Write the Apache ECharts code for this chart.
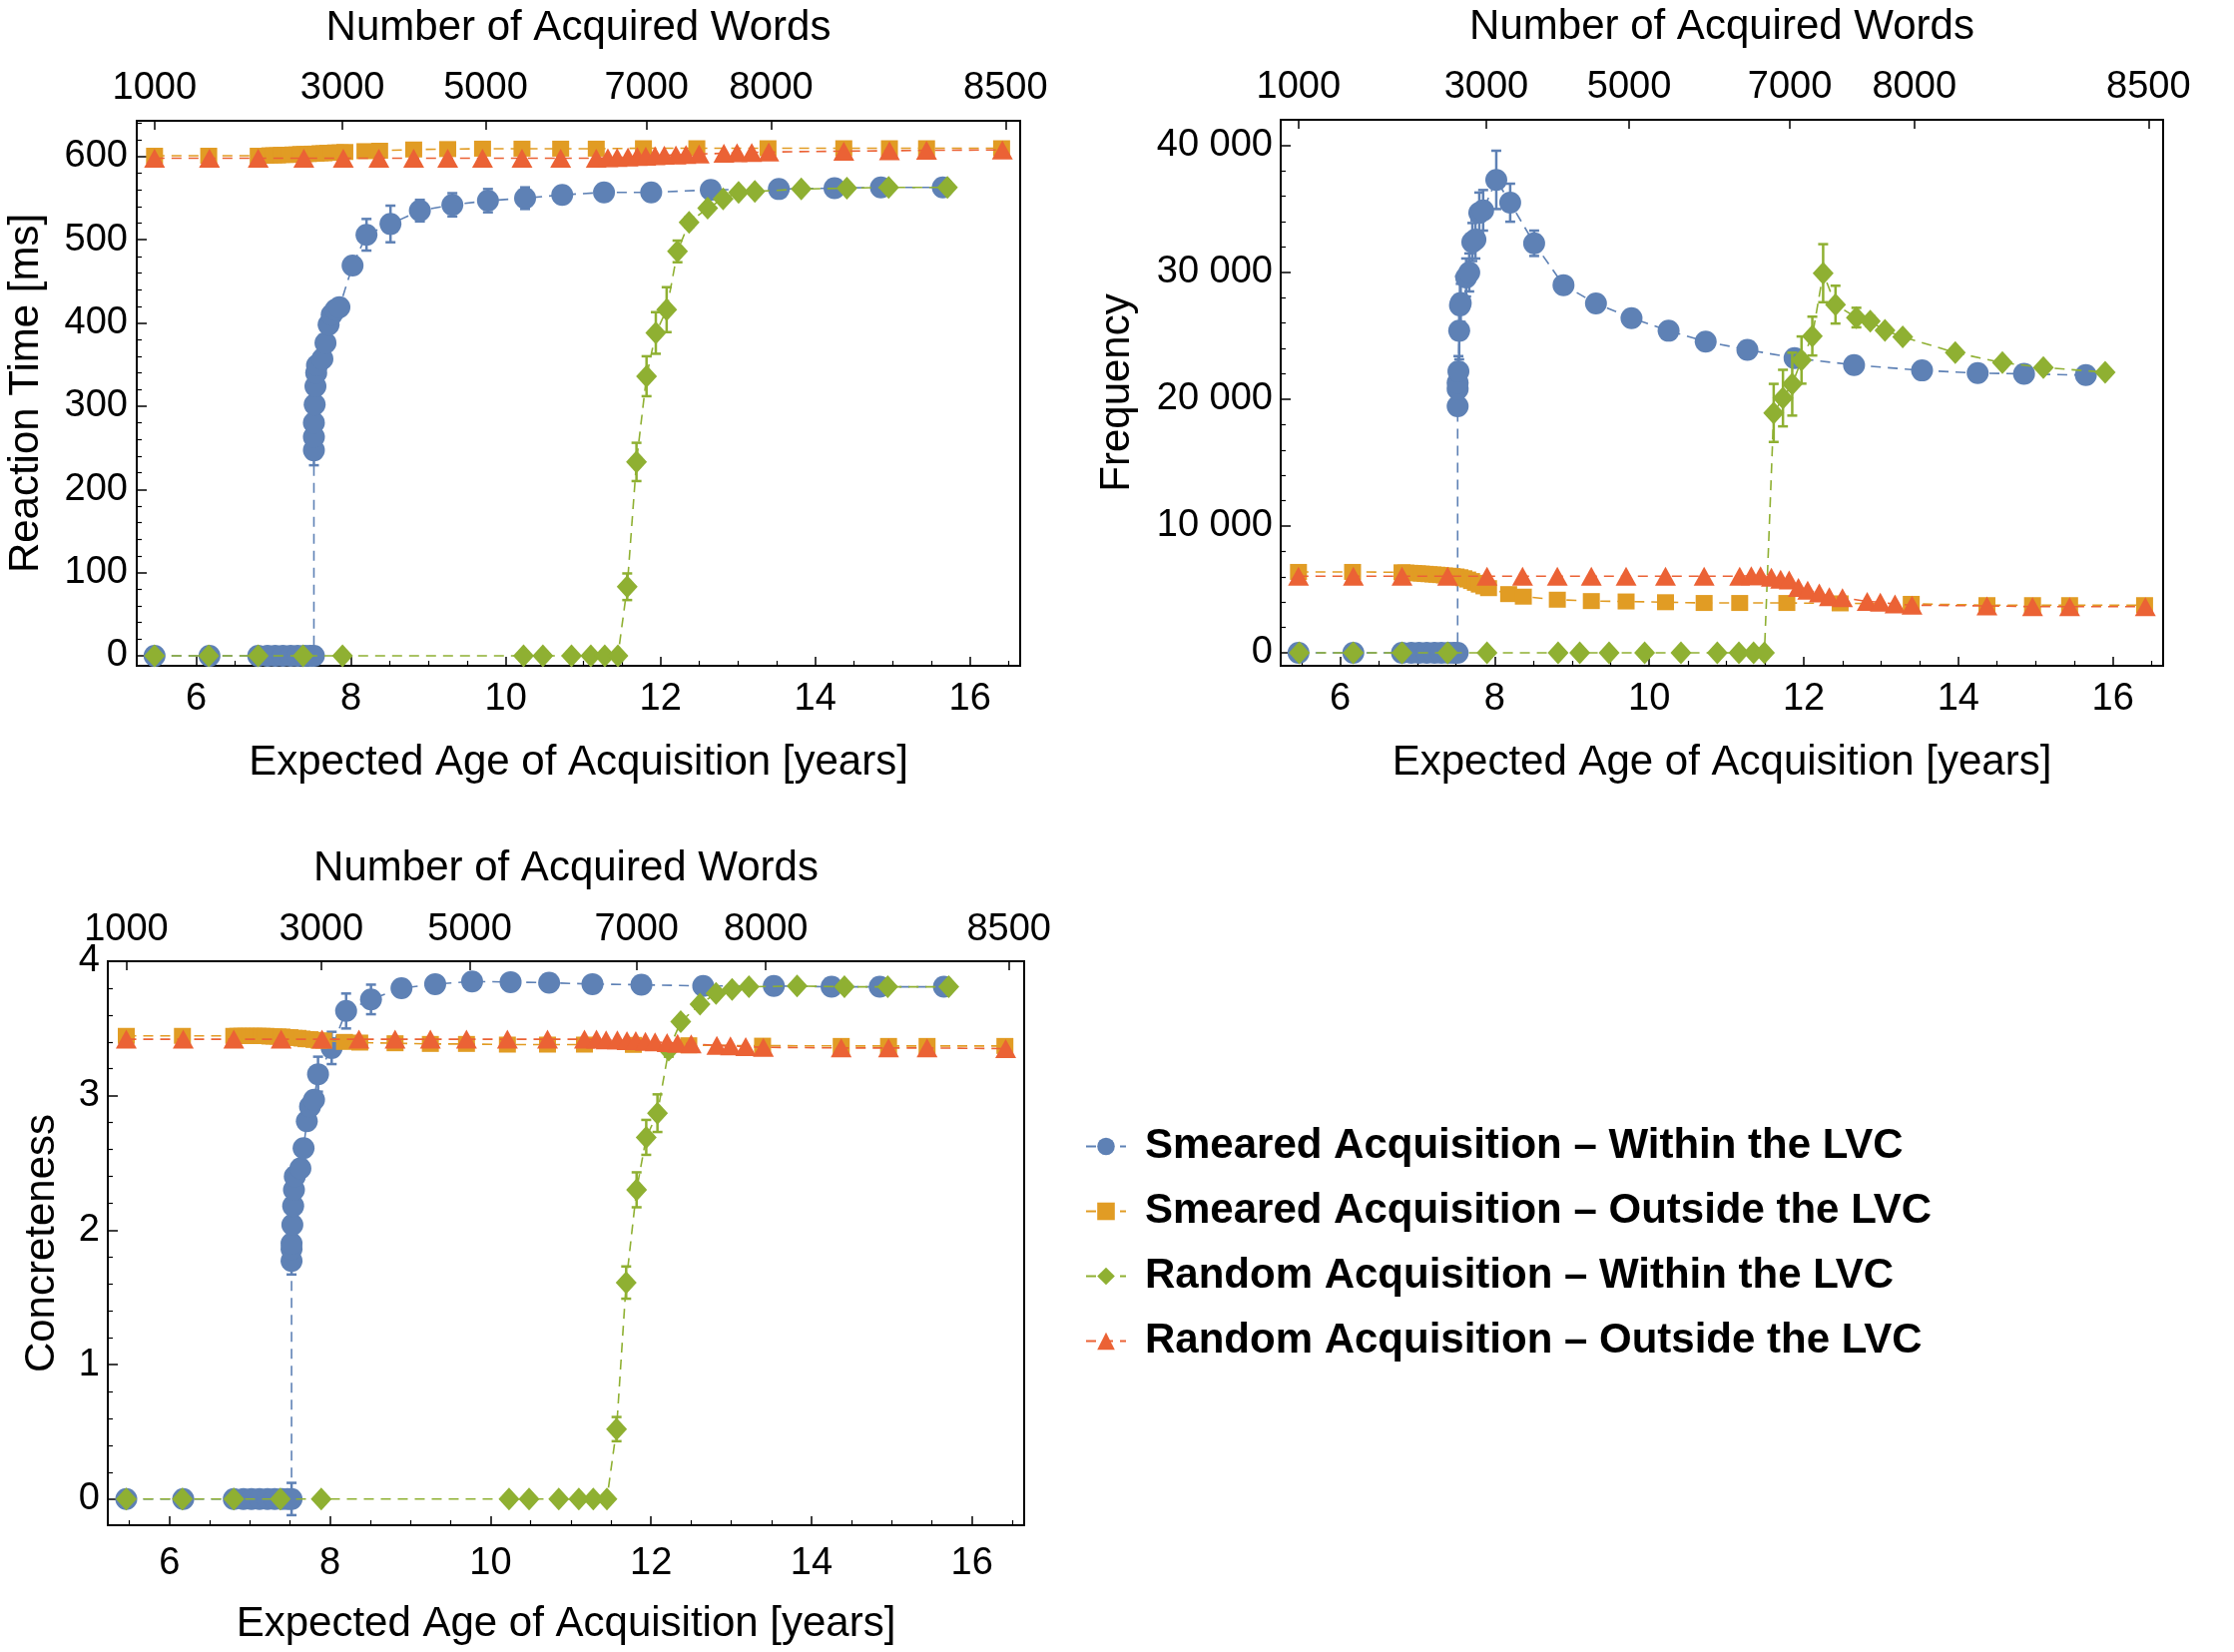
<!DOCTYPE html>
<html>
<head>
<meta charset="utf-8">
<title>Acquisition within / outside the LVC</title>
<script src="https://cdn.jsdelivr.net/npm/echarts@6/dist/echarts.min.js"></script>
<style>
  html, body { margin: 0; padding: 0; background: #fff; }
  #chart { width: 2238px; height: 1655px; }
</style>
</head>
<body>
<div id="chart"></div>
<script>
// colours (Mathematica default palette)
const blue = '#5e81b5', orange = '#e19c24', green = '#8fb032', red = '#eb6235';
const names = [
  'Smeared Acquisition \u2013 Within the LVC',
  'Smeared Acquisition \u2013 Outside the LVC',
  'Random Acquisition \u2013 Within the LVC',
  'Random Acquisition \u2013 Outside the LVC'
];

// bottom axis: expected age, top axis: number of acquired words
const ageTicks = [6, 8, 10, 12, 14, 16];
const wordTickAges = [5.46, 7.89, 9.74, 11.82, 13.43, 16.46];
const wordTickLabels = ['1000', '3000', '5000', '7000', '8000', '8500'];

// Smeared acquisition - within the LVC
const blueX = [5.46, 6.17, 6.80, 6.92, 7.02, 7.12, 7.22, 7.31, 7.40, 7.47, 7.52,
  7.52, 7.52, 7.52, 7.53, 7.54, 7.55, 7.56,
  7.63, 7.67, 7.71, 7.75, 7.80, 7.85,
  8.02, 8.20, 8.51, 8.89, 9.31, 9.77, 10.25, 10.73, 11.27, 11.88, 12.65, 13.53, 14.25, 14.85, 15.65];
const blueRT = [0, 0, 0, 0, 0, 0, 0, 0, 0, 0, 0,
  247, 263, 280, 302, 324, 340, 349,
  357, 376, 398, 410, 416, 419,
  469, 506, 519, 535, 542, 547, 550, 554, 557, 557, 560, 561, 562, 563, 563];
const blueRTErr = [0, 0, 0, 0, 0, 0, 0, 0, 0, 0, 0,
  18, 8, 8, 8, 8, 8, 8,
  6, 6, 6, 6, 6, 6,
  8, 19, 22, 13, 14, 14, 13, 6, 5, 5, 4, 4, 4, 4, 4];
const blueFreq = [0, 0, 0, 0, 0, 0, 0, 0, 0, 0, 0,
  19440, 20800, 21300, 22200, 25400, 27400, 27600,
  29600, 30000, 32400, 32600, 34700, 34900,
  37300, 35500, 32300, 29000, 27550, 26400, 25400, 24550, 23900, 23250, 22700, 22270, 22060, 22000, 21900];
const blueFreqErr = [0, 0, 0, 0, 0, 0, 0, 0, 0, 0, 0,
  400, 400, 400, 1200, 2250, 2300, 1500,
  1500, 1500, 1500, 1500, 1600, 1600,
  2300, 1500, 1000, 400, 400, 300, 300, 300, 300, 300, 300, 300, 300, 300, 300];
const blueConc = [0, 0, 0, 0, 0, 0, 0, 0, 0, 0, 0,
  1.77, 1.86, 1.90, 2.04, 2.18, 2.30, 2.40,
  2.46, 2.61, 2.81, 2.92, 2.97, 3.16,
  3.355, 3.63, 3.716, 3.80, 3.83, 3.85, 3.845, 3.84, 3.83, 3.825, 3.816, 3.816, 3.81, 3.81, 3.81];
const blueConcErr = [0, 0, 0, 0, 0, 0, 0, 0, 0, 0, 0.12,
  0.1, 0.05, 0.05, 0.05, 0.05, 0.05, 0.05,
  0.05, 0.05, 0.05, 0.05, 0.05, 0.13,
  0.12, 0.13, 0.11, 0.06, 0.04, 0.04, 0.03, 0.03, 0.03, 0.03, 0.03, 0.03, 0.03, 0.03, 0.03];

// Smeared acquisition - outside the LVC
const orangeX = [5.46, 6.16,
  6.80, 6.85, 6.90, 6.95, 7.00, 7.05, 7.10, 7.15, 7.20, 7.25, 7.30, 7.35, 7.40, 7.45, 7.50,
  7.55, 7.60, 7.65, 7.70, 7.75, 7.80, 7.86, 7.92,
  8.18, 8.37, 8.81, 9.25, 9.70, 10.21, 10.71, 11.17, 11.78, 12.47, 13.39, 14.37, 14.96, 15.44, 16.41];
const orangeRT = [601, 601,
  601, 601, 601, 601.5, 601.5, 601.5, 602, 602, 602, 602.5, 602.5, 603, 603, 603, 603.5,
  603.5, 604, 604, 604.5, 604.5, 605, 605, 605.5,
  606.5, 607, 608.5, 609, 609.5, 609.5, 609.5, 609.5, 610, 610, 610, 610, 610, 610, 610];
const orangeFreq = [6380, 6380,
  6350, 6330, 6310, 6290, 6270, 6250, 6230, 6200, 6180, 6160, 6130, 6100, 6080, 6050, 6020,
  5960, 5880, 5780, 5660, 5520, 5380, 5240, 5100,
  4630, 4430, 4190, 4080, 4050, 3990, 3930, 3930, 3930, 3900, 3860, 3760, 3760, 3760, 3760];
const orangeConc = [3.445, 3.445,
  3.445, 3.445, 3.445, 3.445, 3.445, 3.445, 3.445, 3.445, 3.445, 3.44, 3.44, 3.44, 3.44, 3.435, 3.435,
  3.43, 3.43, 3.425, 3.42, 3.42, 3.415, 3.41, 3.41,
  3.40, 3.395, 3.39, 3.385, 3.385, 3.38, 3.38, 3.38, 3.378, 3.375, 3.372, 3.37, 3.37, 3.37, 3.37];

// Random acquisition - within the LVC
const greenX = [5.46, 6.16, 6.80, 7.38, 7.89, 10.23, 10.48, 10.85, 11.10, 11.28, 11.45,
  11.57, 11.69, 11.82, 11.94, 12.08, 12.22, 12.37, 12.61, 12.81, 13.01, 13.22, 13.82, 14.41, 14.95, 15.71];
const greenRT = [0, 0, 0, 0, 0, 0, 0, 0, 0, 0, 0,
  83, 233, 336, 388, 416, 486, 521, 538, 549, 557, 558, 561, 562, 563, 563];
const greenRTErr = [0, 0, 0, 0, 0, 0, 0, 0, 0, 0, 0,
  16, 23, 24, 25, 27, 13, 6, 5, 4, 4, 4, 3, 3, 3, 3];
const greenConc = [0, 0, 0, 0, 0, 0, 0, 0, 0, 0, 0,
  0.52, 1.61, 2.30, 2.69, 2.87, 3.34, 3.55, 3.68, 3.76, 3.79, 3.81, 3.816, 3.81, 3.81, 3.81];
const greenConcErr = [0, 0, 0, 0, 0, 0, 0, 0, 0, 0, 0,
  0.09, 0.12, 0.13, 0.13, 0.14, 0.05, 0.03, 0.03, 0.02, 0.02, 0.02, 0.02, 0.02, 0.02, 0.02];
const greenFreqX = [5.47, 6.17, 6.80, 7.39, 7.90, 8.82, 9.10, 9.48, 9.94, 10.41, 10.88, 11.16, 11.35, 11.49,
  11.61, 11.73, 11.85, 11.97, 12.11, 12.25, 12.41, 12.68, 12.86, 13.05, 13.28, 13.96, 14.57, 15.10, 15.90];
const greenFreq = [0, 0, 0, 0, 0, 0, 0, 0, 0, 0, 0, 0, 0, 0,
  18920, 20090, 21190, 23090, 24980, 29940, 27460, 26440, 26150, 25420, 24925, 23670, 22880, 22500, 22130];
const greenFreqErr = [0, 0, 0, 0, 0, 0, 0, 0, 0, 0, 0, 0, 0, 0,
  2290, 2230, 2480, 1860, 1530, 2290, 1490, 770, 400, 300, 300, 300, 300, 300, 300];

// Random acquisition - outside the LVC
const redX = [5.46, 6.17, 6.80, 7.39, 7.90, 8.36, 8.81, 9.25, 9.70, 10.21, 10.71, 11.17,
  11.32, 11.44, 11.58, 11.70, 11.81, 11.93, 12.05, 12.20, 12.33, 12.50, 12.82, 12.99, 13.18, 13.40,
  14.37, 14.96, 15.44, 16.42];
const redRT = [598, 598, 598, 598, 598, 598, 598, 598, 598, 598, 598, 598,
  598.5, 599, 599.5, 600, 600.5, 601, 601.5, 602, 602.5, 603, 604, 604.5, 605, 605.5,
  606.5, 607, 607.5, 608];
const redFreq = [6040, 6040, 6040, 6040, 6040, 6040, 6040, 6040, 6040, 6040, 6040, 6040,
  6090, 6090, 5970, 5800, 5740, 5160, 4930, 4720, 4430, 4340, 4050, 3990, 3850, 3760,
  3700, 3640, 3640, 3640];
const redConc = [3.42, 3.42, 3.42, 3.42, 3.42, 3.42, 3.42, 3.42, 3.42, 3.42, 3.42, 3.42,
  3.42, 3.415, 3.415, 3.41, 3.41, 3.405, 3.40, 3.395, 3.39, 3.385, 3.375, 3.37, 3.365, 3.36,
  3.355, 3.355, 3.355, 3.35];

const FONT = '"Liberation Sans", Arial, sans-serif';
const AGE_MIN = 5.23, AGE_MAX = 16.65;

function minorTicks(lo, hi, step, major) {
  const out = [];
  for (let v = lo; v <= hi + 1e-9; v += step) {
    const r = Math.round(v / step) * step;
    if (Math.abs(r / major - Math.round(r / major)) > 1e-6) out.push(+r.toFixed(4));
  }
  return out;
}

function freqLabel(v) {
  if (v < 10000) return String(v);
  const s = String(v);
  return s.slice(0, s.length - 3) + ' ' + s.slice(-3);
}

const panels = [
  {
    grid: { left: 137, top: 121, width: 885, height: 546 },
    y: { min: -12, max: 643, major: [0, 100, 200, 300, 400, 500, 600], minor: minorTicks(20, 640, 20, 100),
         name: 'Reaction Time [ms]', nameGap: 90, margin: 9, fmt: v => String(v) },
    topNameGap: 72, topMargin: 13, bottomNameGap: 76, bottomMargin: 15,
    lines: [[blueX, blueRT, blueRTErr], [orangeX, orangeRT], [greenX, greenRT, greenRTErr], [redX, redRT]]
  },
  {
    grid: { left: 1283, top: 120, width: 884, height: 547 },
    y: { min: -1024, max: 42040, major: [0, 10000, 20000, 30000, 40000], minor: minorTicks(2000, 40000, 2000, 10000),
         name: 'Frequency', nameGap: 143, margin: 8, fmt: freqLabel },
    topNameGap: 72, topMargin: 13, bottomNameGap: 76, bottomMargin: 15,
    lines: [[blueX, blueFreq, blueFreqErr], [orangeX, orangeFreq], [greenFreqX, greenFreq, greenFreqErr], [redX, redFreq]]
  },
  {
    grid: { left: 108, top: 963, width: 918, height: 565 },
    y: { min: -0.195, max: 4, major: [0, 1, 2, 3, 4], minor: minorTicks(0.2, 3.8, 0.2, 1),
         name: 'Concreteness', nameGap: 45, margin: 8, fmt: v => String(v) },
    topNameGap: 72, topMargin: 12, bottomNameGap: 78, bottomMargin: 20,
    lines: [[blueX, blueConc, blueConcErr], [orangeX, orangeConc], [greenX, greenConc, greenConcErr], [redX, redConc]]
  }
];

const styles = [
  { color: blue, symbol: 'circle', size: 22 },
  { color: orange, symbol: 'rect', size: [17, 16] },
  { color: green, symbol: 'diamond', size: [21, 23] },
  { color: red, symbol: 'triangle', size: [21, 19] }
];

const grids = [], xAxes = [], yAxes = [], series = [];
const tickLabel = { color: '#000', fontSize: 38, fontFamily: FONT };
const nameText = { color: '#000', fontSize: 42, fontFamily: FONT };
const ageMinor = minorTicks(5.5, 16.5, 0.5, 2);

panels.forEach((p, g) => {
  grids.push(Object.assign({ show: true, borderColor: '#000', borderWidth: 2, backgroundColor: 'transparent' }, p.grid));
  const xBase = { type: 'value', gridIndex: g, min: AGE_MIN, max: AGE_MAX, splitLine: { show: false },
                  axisLine: { show: false, onZero: false } };
  // bottom: age, major ticks + labels
  xAxes.push(Object.assign({}, xBase, {
    position: 'bottom',
    name: 'Expected Age of Acquisition [years]', nameLocation: 'middle', nameGap: p.bottomNameGap, nameTextStyle: nameText,
    axisTick: { inside: true, length: 9, lineStyle: { color: '#000', width: 1.5 }, customValues: ageTicks },
    axisLabel: Object.assign({ margin: p.bottomMargin, customValues: ageTicks }, tickLabel)
  }));
  // bottom: minor ticks
  xAxes.push(Object.assign({}, xBase, {
    position: 'bottom',
    axisTick: { inside: true, length: 5, lineStyle: { color: '#000', width: 1.2 }, customValues: ageMinor },
    axisLabel: { show: false }
  }));
  // top: number of acquired words
  xAxes.push(Object.assign({}, xBase, {
    position: 'top',
    name: 'Number of Acquired Words', nameLocation: 'middle', nameGap: p.topNameGap, nameTextStyle: nameText,
    axisTick: { inside: true, length: 9, lineStyle: { color: '#000', width: 1.5 }, customValues: wordTickAges },
    axisLabel: Object.assign({
      margin: p.topMargin, customValues: wordTickAges,
      formatter: v => {
        let best = 0;
        wordTickAges.forEach((a, i) => { if (Math.abs(a - v) < Math.abs(wordTickAges[best] - v)) best = i; });
        return wordTickLabels[best];
      }
    }, tickLabel)
  }));
  const yBase = { type: 'value', gridIndex: g, min: p.y.min, max: p.y.max, position: 'left',
                  splitLine: { show: false }, axisLine: { show: false, onZero: false } };
  yAxes.push(Object.assign({}, yBase, {
    name: p.y.name, nameLocation: 'middle', nameGap: p.y.nameGap, nameTextStyle: nameText,
    axisTick: { inside: true, length: 10, lineStyle: { color: '#000', width: 1.5 }, customValues: p.y.major },
    axisLabel: Object.assign({ margin: p.y.margin, customValues: p.y.major, formatter: p.y.fmt }, tickLabel)
  }));
  yAxes.push(Object.assign({}, yBase, {
    axisTick: { inside: true, length: 5, lineStyle: { color: '#000', width: 1.2 }, customValues: p.y.minor },
    axisLabel: { show: false }
  }));

  p.lines.forEach((ln, k) => {
    const st = styles[k];
    const [xs, ys, es] = ln;
    if (es) {
      series.push({
        type: 'custom', xAxisIndex: 3 * g, yAxisIndex: 2 * g, z: 2 + k, silent: true,
        data: xs.map((x, i) => [x, ys[i] - es[i], ys[i] + es[i]]).filter((d, i) => es[i] > 0),
        encode: { x: 0, y: [1, 2] },
        renderItem: (params, api) => {
          const lo = api.coord([api.value(0), api.value(1)]);
          const hi = api.coord([api.value(0), api.value(2)]);
          const s = { stroke: st.color, lineWidth: 2.5 };
          return { type: 'group', children: [
            { type: 'line', shape: { x1: lo[0], y1: lo[1], x2: hi[0], y2: hi[1] }, style: s },
            { type: 'line', shape: { x1: lo[0] - 5, y1: lo[1], x2: lo[0] + 5, y2: lo[1] }, style: s },
            { type: 'line', shape: { x1: hi[0] - 5, y1: hi[1], x2: hi[0] + 5, y2: hi[1] }, style: s }
          ] };
        }
      });
    }
    series.push({
      name: names[k], type: 'line', xAxisIndex: 3 * g, yAxisIndex: 2 * g, z: 2 + k,
      data: xs.map((x, i) => [x, ys[i]]),
      symbol: st.symbol, symbolSize: st.size,
      itemStyle: { color: st.color },
      lineStyle: { color: st.color, width: 1.6, type: [10, 7] }
    });
  });
});

const chart = echarts.init(document.getElementById('chart'));
chart.setOption({
  animation: false,
  backgroundColor: '#fff',
  textStyle: { fontFamily: FONT },
  grid: grids,
  xAxis: xAxes,
  yAxis: yAxes,
  legend: {
    data: names, orient: 'vertical', left: 1082, top: 1122,
    itemWidth: 40, itemHeight: 22, itemGap: 22, selectedMode: false,
    textStyle: { color: '#000', fontSize: 42, fontWeight: 'bold', fontFamily: FONT, lineHeight: 43, padding: [0, 0, 0, 14] }
  },
  series: series
});
</script>
</body>
</html>
